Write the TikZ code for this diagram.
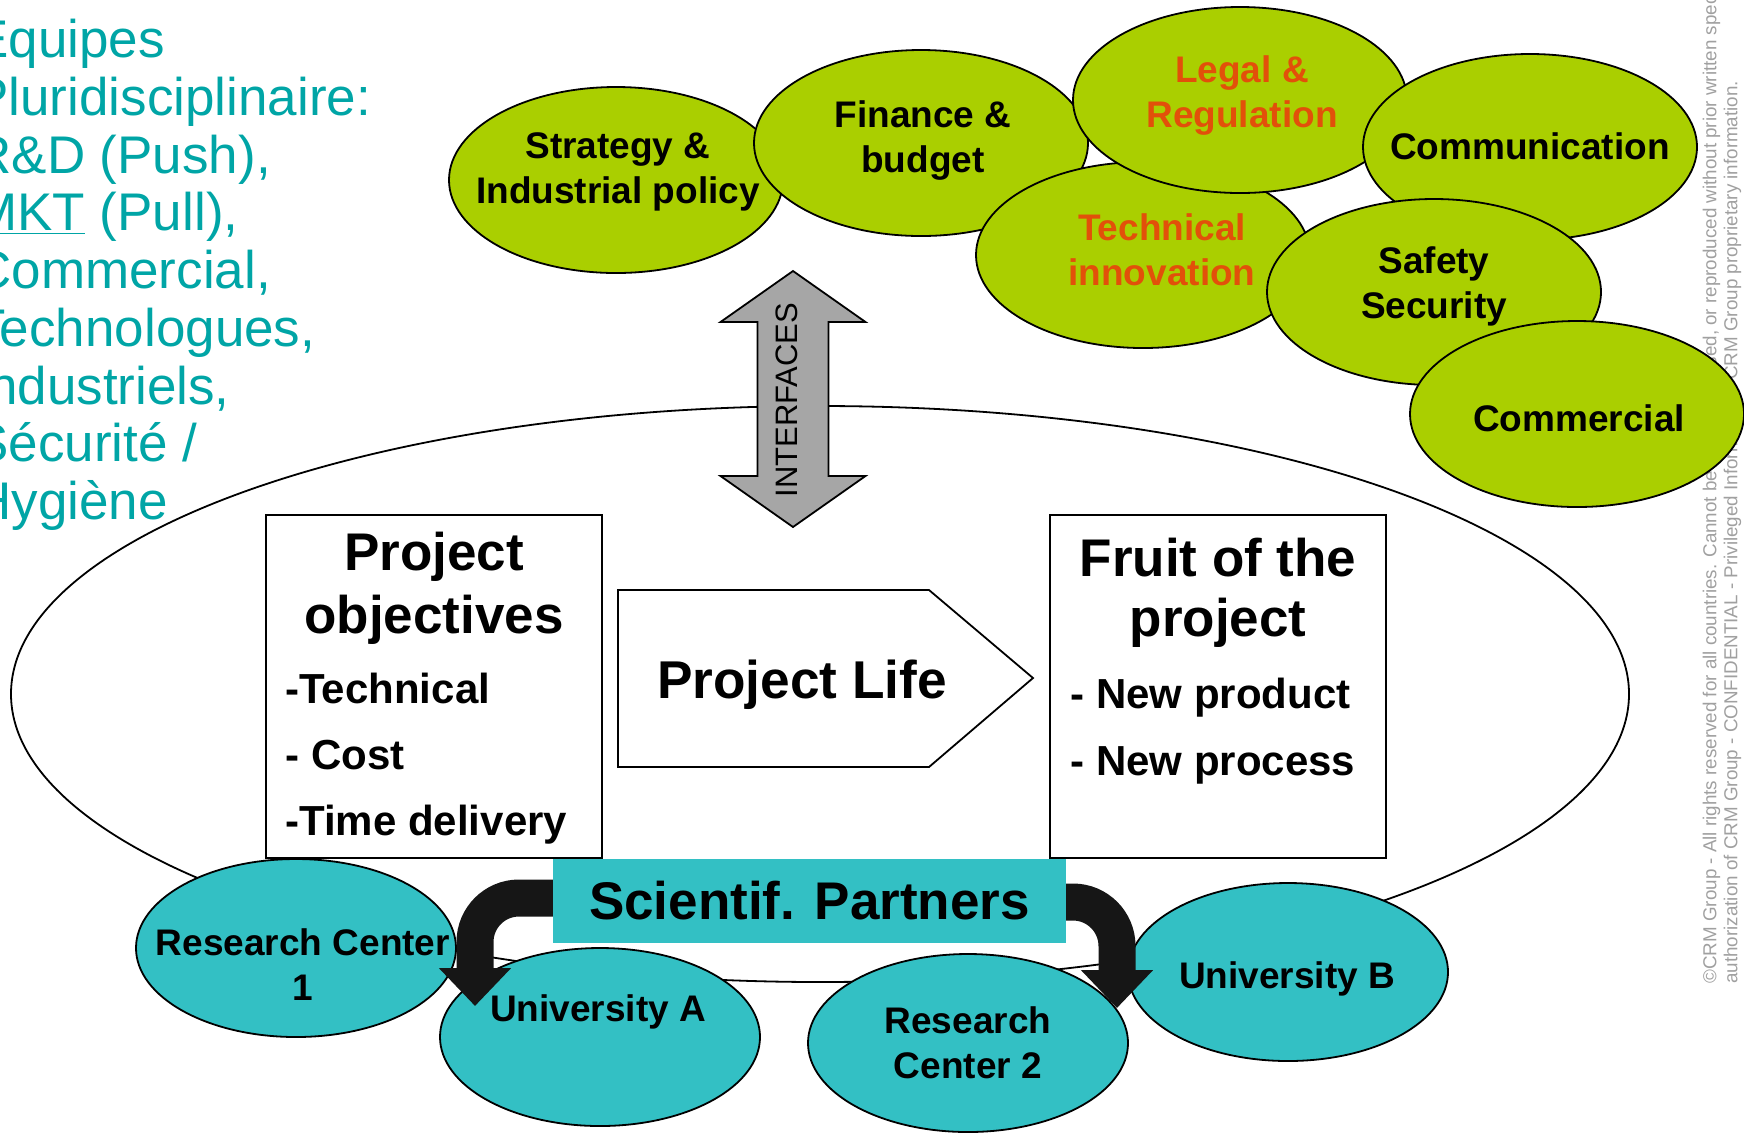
\documentclass[tikz,border=0pt]{standalone}
\usepackage{fontspec}
\setmainfont{Liberation Sans}
\usetikzlibrary{shapes.geometric,arrows.meta}

\definecolor{leafgreen}{RGB}{170,207,0}
\definecolor{hotorange}{RGB}{226,80,10}
\definecolor{lagoon}{RGB}{51,192,196}
\definecolor{teamteal}{RGB}{0,165,166}
\definecolor{notegray}{RGB}{160,160,160}
\definecolor{interfacegray}{RGB}{166,166,166}
\definecolor{inkblack}{RGB}{22,22,22}

\begin{document}
\begin{tikzpicture}[
    x=0.5pt, y=-0.5pt,
    topic/.style={ellipse, draw, fill=leafgreen, line width=0.9pt, minimum width=167pt, minimum height=93pt, inner sep=0pt},
    partner/.style={ellipse, draw, fill=lagoon, line width=0.9pt, minimum width=160pt, minimum height=89pt, inner sep=0pt},
    tag/.style={align=center, inner sep=0pt, font=\bfseries\fontsize{18.5}{22.5}\selectfont},
    hot/.style={text=hotorange},
    goalbox/.style={draw, fill=white, line width=1.2pt, minimum width=168pt, minimum height=171.5pt, inner sep=0pt},
    heading/.style={anchor=north, align=center, inner sep=0pt},
    items/.style={anchor=north west, align=left, inner sep=0pt, font=\bfseries\fontsize{21}{33}\selectfont},
    bent/.style={-{Triangle[width=35pt,length=19pt]}, draw=inkblack, line width=18.5pt, rounded corners=22pt},
]
\useasboundingbox (0,0) rectangle (1744,1132);

% Confidentiality notice
\node[rotate=90, anchor=west, align=left, inner sep=0pt, text=notegray, font=\fontsize{9.4}{10.5}\selectfont] (notice) at (1722,984)
    {©CRM Group - All rights reserved for all countries. Cannot be disclosed, used, or reproduced without prior written specific\\
     authorization of CRM Group - CONFIDENTIAL - Privileged Information - CRM Group proprietary information.};

% Project area
\node[ellipse, draw, line width=0.9pt, minimum width=809pt, minimum height=288pt] (zone) at (820,694) {};

% Topics around the project
\node[topic] (strategy) at (616,180) {};
\node[tag] (strategytext) at (618,172) {Strategy \&\\Industrial policy};
\node[topic] (finance) at (921,143) {};
\node[tag] (financetext) at (923,141) {Finance \&\\budget};
\node[topic] (techno) at (1143,255) {};
\node[tag, hot] (technotext) at (1162,249.5) {Technical\\innovation};
\node[topic] (legal) at (1240,100) {};
\node[tag, hot] (legaltext) at (1242,95.5) {Legal \&\\Regulation};
\node[topic] (comm) at (1530,147) {};
\node[tag] (commtext) at (1530,146) {Communication};
\node[topic] (safety) at (1434,292) {};
\node[tag] (safetytext) at (1434,286.5) {Safety\\Security};
\node[topic] (commercial) at (1577,414) {};
\node[tag] (commercialtext) at (1579,418.5) {Commercial};

% Interfaces
\draw[fill=interfacegray, line width=0.9pt]
    (793,271) -- (865.5,322) -- (828.5,322) -- (828.5,476) -- (865.5,476) -- (793,527)
    -- (720.5,476) -- (757.5,476) -- (757.5,322) -- (720.5,322) -- cycle;
\node[rotate=90, inner sep=0pt, font=\fontsize{15.5}{18}\selectfont] (interfaces) at (787,400) {INTERFACES};

% Objectives and results
\node[goalbox] (goals) at (434,686.5) {};
\node[heading, font=\bfseries\fontsize{26.5}{31.5}\selectfont] (goalstitle) at (434,532) {Project\\objectives};
\node[items] (goalslist) at (285,673) {-Technical\\- Cost\\-Time delivery};

\node[goalbox] (fruit) at (1218,686.5) {};
\node[heading, font=\bfseries\fontsize{26.5}{30}\selectfont] (fruittitle) at (1218,538) {Fruit of the\\project};
\node[items, font=\bfseries\fontsize{21}{33.5}\selectfont] (fruitlist) at (1070,678) {- New product\\- New process};

% Project life
\draw[line width=0.9pt, fill=white] (618,590) -- (929,590) -- (1033,678) -- (929,767) -- (618,767) -- cycle;
\node[anchor=base, inner sep=0pt, font=\bfseries\fontsize{26.6}{30}\selectfont] (life) at (802,698) {Project Life};

% Partners
\node[partner] (rc1) at (296,948) {};
\node[tag] (rc1text) at (303,965) {Research Center\\1};
\node[partner] (unia) at (600,1037) {};
\node[tag] (uniatext) at (598,1012) {University A};
\node[partner] (rc2) at (968,1043) {};
\node[tag] (rc2text) at (968,1043) {Research\\Center 2};
\node[partner] (unib) at (1288,972) {};
\node[tag] (unibtext) at (1287,979) {University B};

% Links to the partners
\coordinate (sciw) at (570,898);
\coordinate (scie) at (1050,902);
\coordinate (tipa) at (475,1006);
\coordinate (tipb) at (1117,1008);
\draw[bent] (sciw) -| (tipa);
\draw[bent] (scie) -| (tipb);

\node[fill=lagoon, minimum width=256.5pt, minimum height=42pt, inner sep=0pt, font=\bfseries\fontsize{26.5}{30}\selectfont] (sci) at (809.5,900.5) {Scientif. Partners};

% Teams
\node[anchor=north west, align=left, inner sep=0pt, text=teamteal, font=\fontsize{26.5}{28.85}\selectfont] (team) at (-27,19)
    {Equipes\\Pluridisciplinaire:\\R\&D (Push),\\\underline{MKT} (Pull),\\Commercial,\\Technologues,\\Industriels,\\Sécurité /\\Hygiène};

\end{tikzpicture}
\end{document}
